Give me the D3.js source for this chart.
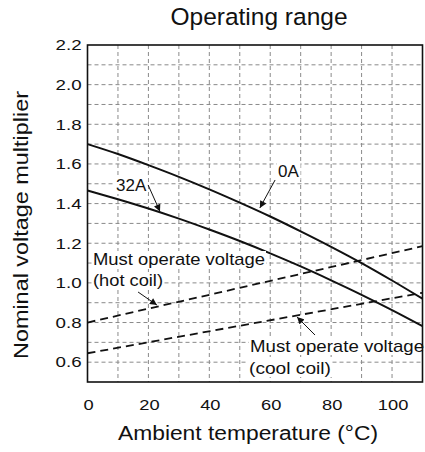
<!DOCTYPE html>
<html>
<head>
<meta charset="utf-8">
<script src="https://cdn.jsdelivr.net/npm/d3@7"></script>
<style>
  html, body { margin: 0; padding: 0; background: #fff; }
  svg { display: block; }
  text { font-family: "Liberation Sans", Arial, sans-serif; fill: #111; }
</style>
</head>
<body>
<svg id="chart" width="425" height="452"></svg>
<script>
// ---- data ----
const temps = [0, 10, 20, 30, 40, 50, 60, 70, 80, 90, 100, 110];
const load0A = [1.70, 1.65, 1.594, 1.535, 1.472, 1.405, 1.335, 1.26, 1.182, 1.10, 1.012, 0.92];
const load32A = [1.466, 1.422, 1.375, 1.324, 1.269, 1.211, 1.149, 1.083, 1.013, 0.94, 0.863, 0.782];
const coilTemps = [0, 110];
const hotCoil = [0.80, 1.185];
const coolCoil = [0.645, 0.95];
const xTicks = [0, 20, 40, 60, 80, 100];
const yTicks = [0.6, 0.8, 1.0, 1.2, 1.4, 1.6, 1.8, 2.0, 2.2];
const xGrid = d3.range(10, 110, 10);
const yGrid = d3.range(6, 22, 1).map(d => d / 10);

const svg = d3.select("#chart");
const L = 87.5, R = 422.5, T = 45, B = 382;
const x = d3.scaleLinear().domain([0, 110]).range([L, R]);
const y = d3.scaleLinear().domain([0.5, 2.2]).range([B, T]);

svg.append("defs").append("clipPath").attr("id", "clip")
  .append("rect").attr("x", L).attr("y", T).attr("width", R - L).attr("height", B - T);
svg.select("defs").append("marker")
  .attr("id", "arr").attr("viewBox", "0 0 10 10").attr("refX", 10).attr("refY", 5)
  .attr("markerWidth", 8).attr("markerHeight", 7).attr("markerUnits", "userSpaceOnUse")
  .attr("orient", "auto")
  .append("path").attr("d", "M0,0 L10,5 L0,10 z").attr("fill", "#111");

// grid
const grid = svg.append("g").attr("stroke", "#8a8a8a").attr("stroke-width", 1).attr("stroke-dasharray", "4,3");
grid.selectAll("line.v").data(xGrid).join("line").attr("class", "v")
  .attr("x1", d => x(d)).attr("x2", d => x(d)).attr("y1", T).attr("y2", B);
grid.selectAll("line.h").data(yGrid).join("line").attr("class", "h")
  .attr("x1", L).attr("x2", R).attr("y1", d => y(d)).attr("y2", d => y(d));

// curves
const plot = svg.append("g").attr("clip-path", "url(#clip)");
const line = d3.line().x(d => x(d[0])).y(d => y(d[1])).curve(d3.curveMonotoneX);
plot.append("path").datum(temps.map((t, i) => [t, load0A[i]])).attr("d", line)
  .attr("fill", "none").attr("stroke", "#111").attr("stroke-width", 2);
plot.append("path").datum(temps.map((t, i) => [t, load32A[i]])).attr("d", line)
  .attr("fill", "none").attr("stroke", "#111").attr("stroke-width", 2);
plot.append("path").datum(coilTemps.map((t, i) => [t, hotCoil[i]])).attr("d", line)
  .attr("fill", "none").attr("stroke", "#111").attr("stroke-width", 1.8).attr("stroke-dasharray", "8,5");
plot.append("path").datum(coilTemps.map((t, i) => [t, coolCoil[i]])).attr("d", line)
  .attr("fill", "none").attr("stroke", "#111").attr("stroke-width", 1.8).attr("stroke-dasharray", "8,5");

// annotations (text with white background)
const ann = svg.append("g");
function label(txt, px, py, len) {
  const g = ann.append("g");
  const t = g.append("text").attr("x", px).attr("y", py).attr("font-size", 17).text(txt);
  if (len) t.attr("textLength", len).attr("lengthAdjust", "spacingAndGlyphs");
  const bb = t.node().getBBox();
  g.insert("rect", "text").attr("x", bb.x - 1).attr("y", bb.y + 1).attr("width", bb.width + 2)
    .attr("height", bb.height - 2).attr("fill", "#fff");
}
label("0A", 278, 177);
label("32A", 116, 191);
label("Must operate voltage", 93, 265, 172);
label("(hot coil)", 93, 286, 70);
label("Must operate voltage", 250, 352, 174);
label("(cool coil)", 249, 374, 82);

const arrows = [
  [[61.6, 1.519], [56.6, 1.378]],
  [[19.9, 1.494], [23.8, 1.360]],
  [[16.6, 0.954], [22.8, 0.888]],
  [[74.7, 0.737], [68.8, 0.828]]
];
ann.selectAll("line.arrow").data(arrows).join("line").attr("class", "arrow")
  .attr("x1", d => x(d[0][0])).attr("y1", d => y(d[0][1]))
  .attr("x2", d => x(d[1][0])).attr("y2", d => y(d[1][1]))
  .attr("stroke", "#111").attr("stroke-width", 1).attr("marker-end", "url(#arr)");

// frame
svg.append("rect").attr("x", L).attr("y", T).attr("width", R - L).attr("height", B - T)
  .attr("fill", "none").attr("stroke", "#111").attr("stroke-width", 1.6);

// axes
const xa = svg.append("g").attr("transform", `translate(0,${B})`)
  .call(d3.axisBottom(x).tickValues(xTicks).tickSize(0).tickFormat(d3.format("d")));
xa.select(".domain").remove();
xa.selectAll("text").attr("y", 28).attr("dy", null).attr("font-size", 15.5)
  .attr("font-family", null).attr("transform", "scale(1.18,1)")
  .attr("x", function(d) { return 0; });
// compensate the horizontal scale so labels stay centred on their ticks
xa.selectAll(".tick").each(function(d) {
  const g = d3.select(this);
  g.attr("transform", `translate(${x(d) + 1},0)`);
});

const ya = svg.append("g").attr("transform", `translate(${L},0)`)
  .call(d3.axisLeft(y).tickValues(yTicks).tickSize(0).tickFormat(d3.format(".1f")));
ya.select(".domain").remove();
ya.selectAll("text").attr("x", -4.7).attr("font-size", 15).attr("font-family", null)
  .attr("transform", "scale(1.25,1)");

// titles
svg.append("text").attr("x", 259).attr("y", 25).attr("text-anchor", "middle")
  .attr("font-size", 24.5).text("Operating range");
svg.append("text").attr("x", 248).attr("y", 440).attr("text-anchor", "middle")
  .attr("font-size", 20).attr("textLength", 260).attr("lengthAdjust", "spacingAndGlyphs")
  .text("Ambient temperature (°C)");
svg.append("text").attr("transform", "translate(28,225) rotate(-90)").attr("text-anchor", "middle")
  .attr("font-size", 21).attr("textLength", 268).attr("lengthAdjust", "spacingAndGlyphs")
  .text("Nominal voltage multiplier");
</script>
</body>
</html>
